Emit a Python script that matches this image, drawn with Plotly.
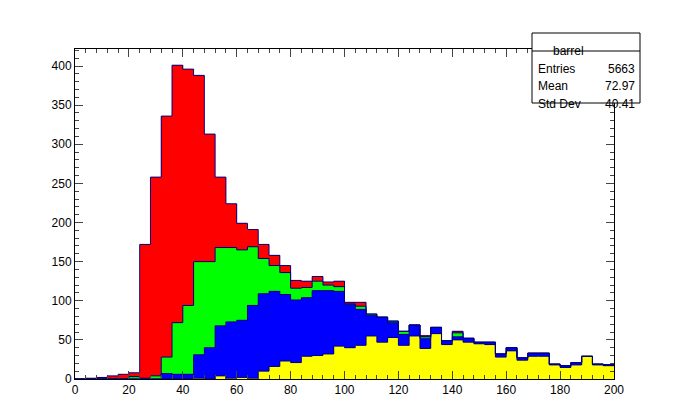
import numpy as np
import plotly.graph_objects as go

edges = np.arange(0, 204, 4)
yellow = [0]*11 + [1, 0, 4, 1, 2, 1, 10, 16, 23, 21, 29, 30, 32,
                   42, 40, 43, 55, 47, 53, 43, 55, 39, 58, 44, 50, 47, 45, 44, 28, 36, 24, 29, 29, 18, 15, 18, 29, 18, 17]
blue = [0]*8 + [7, 6, 6, 30, 40, 64, 72, 73, 93, 99, 96, 85, 80, 75, 83, 81,
                70, 55, 46, 26, 32, 19, 14, 14, 13, 8, 5, 4, 5, 2, 3, 4, 4, 3, 4, 4, 1, 2, 3, 0, 1, 1]
green = [0]*5 + [3, 1, 4, 21, 66, 88, 119, 110, 100, 95, 90, 75, 45, 33, 28, 15, 13, 12, 7, 6, 1, 4, 2, 0, 2, 4, 0, 2, 0, 0, 5] + [0]*14
red = [0, 1, 2, 4, 6, 5, 171, 254, 308, 329, 302, 238, 163, 90, 56, 34, 22, 18, 13, 9, 10, 8, 6, 4, 7, 2, 5] + [0]*5 + [1, 0, 0, 2] + [0]*14
stats = [("Entries", "5663"), ("Mean", "72.97"), ("Std Dev", "40.41")]

centers = (edges[:-1] + edges[1:]) / 2
fig = go.Figure()
cum = np.zeros(50)
layers = [(yellow, "#ffff00"), (blue, "#0000ff"), (green, "#00ff00"), (red, "#ff0000")]
for vals, col in layers:
    fig.add_trace(go.Bar(x=centers, y=vals, width=4, marker=dict(color=col, line=dict(width=0)), showlegend=False))
for vals, col in layers:
    cum = cum + np.array(vals)
    fig.add_trace(go.Scatter(x=edges, y=np.append(cum, cum[-1]), mode="lines", line=dict(color="#000080", width=1, shape="hv"),
                             showlegend=False, hoverinfo="skip"))

W, H = 674, 413
L, R, T, B = 67, 606, 41, 371
px = lambda x: (x - L) / (R - L)
py = lambda y: (B - y) / (B - T)
font = dict(family="Liberation Sans, Arial", size=12, color="black")
shapes = [dict(type="rect", xref="paper", yref="paper", x0=px(524), x1=px(632), y0=py(95), y1=py(25),
               line=dict(color="black", width=1), fillcolor="white"),
          dict(type="line", xref="paper", yref="paper", x0=px(524), x1=px(632), y0=py(43), y1=py(43),
               line=dict(color="black", width=1))]
ann = [dict(xref="paper", yref="paper", x=px(578), y=py(34), text="barrel", showarrow=False, font=font)]
for i, (k, v) in enumerate(stats):
    yy = py(52 + i * 17.5)
    ann.append(dict(xref="paper", yref="paper", x=px(528), y=yy, text=k, showarrow=False, xanchor="left", font=font))
    ann.append(dict(xref="paper", yref="paper", x=px(629), y=yy, text=v, showarrow=False, xanchor="right", font=font))

fig.update_layout(width=W, height=H, barmode="stack", bargap=0, plot_bgcolor="white", paper_bgcolor="white",
                  margin=dict(l=L, r=W - R, t=T, b=H - B, autoexpand=False), font=font, shapes=shapes, annotations=ann,
                  xaxis=dict(range=[0, 200], tickvals=list(range(0, 201, 20)), ticks="inside", ticklen=8, mirror="allticks",
                             showline=True, linecolor="black", showgrid=False, zeroline=False,
                             minor=dict(ticks="inside", ticklen=4, dtick=4)),
                  yaxis=dict(range=[0, (B - T) / 0.7825], tickvals=list(range(0, 401, 50)), ticks="inside", ticklen=8,
                             mirror="allticks", showline=True, linecolor="black", showgrid=False, zeroline=False,
                             minor=dict(ticks="inside", ticklen=4, dtick=10)))
fig.write_html("out.html")
